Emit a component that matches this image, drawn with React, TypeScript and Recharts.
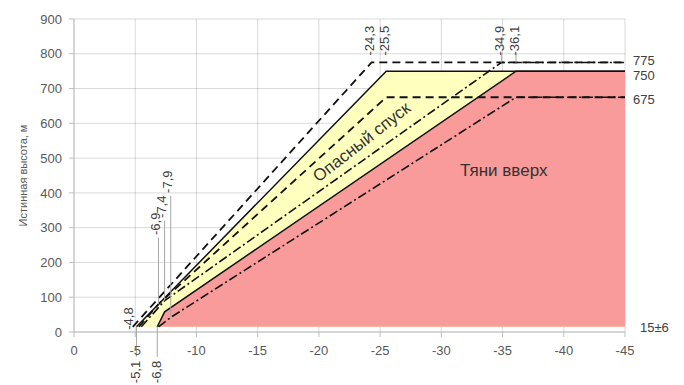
import React from 'react';
import {
  ComposedChart,
  Area,
  Line,
  XAxis,
  YAxis,
  CartesianGrid,
  ReferenceDot,
  ReferenceLine,
} from 'recharts';

// axes
const xTicks = [0, -5, -10, -15, -20, -25, -30, -35, -40, -45];
const yTicks = [0, 100, 200, 300, 400, 500, 600, 700, 800, 900];

// boundary lines: x = angle, h = height (m)
const dashTopX = [-4.8, -24.3, -45];
const dashTopH = [15, 775, 775];
const solidTopX = [-5.1, -25.5, -45];
const solidTopH = [15, 750, 750];
const dashMidX = [-5.3, -6.9, -25.5, -45];
const dashMidH = [15, 80, 675, 675];
const dotTopX = [-5.5, -7.4, -34.9, -45];
const dotTopH = [15, 90, 775, 775];
const solidLowX = [-6.8, -7.4, -36.1, -45];
const solidLowH = [15, 58, 750, 750];
const dotLowX = [-6.9, -7.9, -36.1, -45];
const dotLowH = [15, 42, 675, 675];

// callouts
const topLabels = ['-24,3', '-25,5', '-34,9', '-36,1'];
const topLabelX = [-24.3, -25.5, -34.9, -36.1];
const levelLabels = ['775', '750', '675'];
const levelH = [775, 750, 675];
const kinkLabels = ['-6,9', '-7,4', '-7,9'];
const kinkX = [-6.9, -7.4, -7.9];
const kinkH = [80, 90, 42];
const kinkLabelH = [279, 328, 400];
const startLabels = ['-5,1', '-6,8'];
const startX = [-5.1, -6.8];

const pts = (xs: number[], hs: number[]) => xs.map((x, i) => ({ x, h: hs[i] }));

const FONT = '"Liberation Sans", Arial, sans-serif';
const INK = '#111';
const TXT = '#404040';
const LEADER = '#a6a6a6';

export default function App() {
  const levelDy = [-2, 4, 2];
  return (
    <div style={{ width: 684, height: 385, fontFamily: FONT, overflow: 'hidden' }}>
      <style>{'body{margin:0}'}</style>
      <ComposedChart width={684} height={385} margin={{ top: 19, right: 59, bottom: 0, left: 0 }}>
        <XAxis
          type="number"
          dataKey="x"
          domain={[-45, 0]}
          reversed
          ticks={xTicks}
          height={53}
          tickSize={5}
          tickMargin={9}
          axisLine={{ stroke: '#bfbfbf' }}
          tickLine={{ stroke: '#bfbfbf' }}
          tick={{ fill: '#595959', fontSize: 13, fontFamily: FONT }}
        />
        <YAxis
          type="number"
          domain={[0, 900]}
          ticks={yTicks}
          width={74}
          tickSize={5}
          tickMargin={7}
          axisLine={{ stroke: '#bfbfbf' }}
          tickLine={{ stroke: '#bfbfbf' }}
          tick={{ fill: '#595959', fontSize: 13, fontFamily: FONT }}
          label={(p: any) => (
            <text
              x={23}
              y={p.viewBox.y + p.viewBox.height / 2}
              transform={`rotate(-90, 23, ${p.viewBox.y + p.viewBox.height / 2})`}
              textAnchor="middle"
              dominantBaseline="central"
              fontSize={11}
              fill="#595959"
              fontFamily={FONT}
            >
              Истинная высота, м
            </text>
          )}
        />

        <Area
          data={pts(solidTopX, solidTopH)}
          dataKey="h"
          type="linear"
          baseValue={15}
          fill="#ffffbe"
          fillOpacity={1}
          stroke="none"
          isAnimationActive={false}
        />
        <Area
          data={pts(solidLowX, solidLowH)}
          dataKey="h"
          type="linear"
          baseValue={15}
          fill="#f99b9b"
          fillOpacity={1}
          stroke="none"
          isAnimationActive={false}
        />

        <CartesianGrid stroke="rgba(0,0,0,0.15)" />

        <Line data={pts(dashTopX, dashTopH)} dataKey="h" type="linear" stroke={INK} strokeWidth={1.8} strokeDasharray="8 5" dot={false} isAnimationActive={false} />
        <Line data={pts(solidTopX, solidTopH)} dataKey="h" type="linear" stroke={INK} strokeWidth={1.5} dot={false} isAnimationActive={false} />
        <Line data={pts(dashMidX, dashMidH)} dataKey="h" type="linear" stroke={INK} strokeWidth={1.8} strokeDasharray="8 5" dot={false} isAnimationActive={false} />
        <Line data={pts(dotTopX, dotTopH)} dataKey="h" type="linear" stroke={INK} strokeWidth={1.6} strokeDasharray="9 3 2 3" dot={false} isAnimationActive={false} />
        <Line data={pts(solidLowX, solidLowH)} dataKey="h" type="linear" stroke={INK} strokeWidth={1.5} dot={false} isAnimationActive={false} />
        <Line data={pts(dotLowX, dotLowH)} dataKey="h" type="linear" stroke={INK} strokeWidth={1.6} strokeDasharray="9 3 2 3" dot={false} isAnimationActive={false} />

        {kinkX.map((x, i) => (
          <ReferenceLine
            key={'kl' + i}
            segment={[{ x, y: kinkH[i] }, { x, y: kinkLabelH[i] - 8 }]}
            stroke={LEADER}
            strokeWidth={1}
          />
        ))}
        {kinkX.map((x, i) => (
          <ReferenceDot
            key={'kt' + i}
            x={x}
            y={kinkLabelH[i]}
            shape={(p: any) => (
              <text
                x={p.cx - 3}
                y={p.cy}
                transform={`rotate(-90, ${p.cx - 3}, ${p.cy})`}
                dominantBaseline="central"
                fontSize={13}
                fill={TXT}
                fontFamily={FONT}
              >
                {kinkLabels[i]}
              </text>
            )}
          />
        ))}

        {topLabelX.map((x, i) => (
          <ReferenceDot
            key={'tl' + i}
            x={x}
            y={775}
            shape={(p: any) => (
              <g>
                {i >= 2 && <line x1={p.cx} y1={p.cy - 9} x2={p.cx} y2={p.cy} stroke={LEADER} />}
                <text
                  x={p.cx - 2}
                  y={p.cy - 7}
                  transform={`rotate(-90, ${p.cx - 2}, ${p.cy - 7})`}
                  dominantBaseline="central"
                  fontSize={13}
                  fill={TXT}
                  fontFamily={FONT}
                >
                  {topLabels[i]}
                </text>
              </g>
            )}
          />
        ))}

        {levelH.map((h, i) => (
          <ReferenceDot
            key={'lv' + i}
            x={-45}
            y={h}
            shape={(p: any) => (
              <text x={p.cx + 8} y={p.cy + levelDy[i]} dominantBaseline="central" fontSize={13} fill={TXT} fontFamily={FONT}>
                {levelLabels[i]}
              </text>
            )}
          />
        ))}

        <ReferenceDot
          x={-45}
          y={15}
          shape={(p: any) => (
            <text x={p.cx + 15} y={p.cy + 1} dominantBaseline="central" fontSize={13} fill={TXT} fontFamily={FONT}>
              15±6
            </text>
          )}
        />

        <ReferenceDot
          x={-4.8}
          y={15}
          shape={(p: any) => (
            <text
              x={p.cx - 4}
              y={p.cy + 3}
              transform={`rotate(-90, ${p.cx - 4}, ${p.cy + 3})`}
              dominantBaseline="central"
              fontSize={13}
              fill={TXT}
              fontFamily={FONT}
            >
              -4,8
            </text>
          )}
        />

        {startX.map((x, i) => (
          <ReferenceDot
            key={'st' + i}
            x={x}
            y={15}
            shape={(p: any) => (
              <g>
                <line x1={p.cx} y1={p.cy} x2={p.cx} y2={p.cy + 30} stroke={LEADER} />
                <text
                  x={p.cx - 1}
                  y={p.cy + 34}
                  transform={`rotate(-90, ${p.cx - 1}, ${p.cy + 34})`}
                  textAnchor="end"
                  dominantBaseline="central"
                  fontSize={13}
                  fill={TXT}
                  fontFamily={FONT}
                >
                  {startLabels[i]}
                </text>
              </g>
            )}
          />
        ))}

        <ReferenceDot
          x={-23.5}
          y={546}
          shape={(p: any) => (
            <text
              x={p.cx}
              y={p.cy}
              transform={`rotate(-38, ${p.cx}, ${p.cy})`}
              textAnchor="middle"
              dominantBaseline="central"
              fontSize={17}
              fill="#333"
              fontFamily={FONT}
            >
              Опасный спуск
            </text>
          )}
        />
        <ReferenceDot
          x={-35.1}
          y={463}
          shape={(p: any) => (
            <text x={p.cx} y={p.cy} textAnchor="middle" dominantBaseline="central" fontSize={17} fill="#333" fontFamily={FONT}>
              Тяни вверх
            </text>
          )}
        />
      </ComposedChart>
    </div>
  );
}
